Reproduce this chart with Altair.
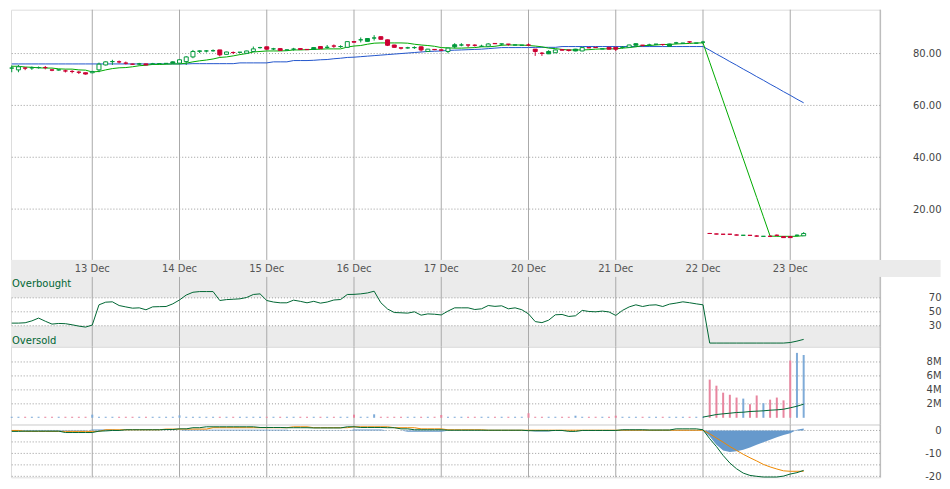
import altair as alt
import pandas as pd

# ---------------- data (30-minute bars, bar 0 = first bar of 13 Dec, 13 bars a day) -------------
FIRST_BAR = -12
DAY_LABELS = ["13 Dec", "14 Dec", "15 Dec", "16 Dec", "17 Dec", "20 Dec", "21 Dec", "22 Dec", "23 Dec"]
DAY_START = [0, 13, 26, 39, 52, 65, 78, 91, 104]

OPEN = [
    74.4, 73.7, 74.4, 74.5, 74.6, 74.6, 73.7, 73.7, 73.3, 73.1, 72.8, 72.6,
    72.6, 73.7, 75.6, 76.9, 76.8, 76.3, 75.9, 76.0, 76.0, 76.0, 76.1, 76.2, 76.8,
    76.3, 76.9, 78.7, 81.0, 81.0, 81.1, 81.4, 79.7, 80.4, 80.5, 80.1, 80.8, 82.3,
    82.6, 81.8, 81.9, 81.4, 81.7, 81.9, 81.6, 82.3, 82.7, 82.4, 82.9, 82.7, 82.4,
    84.6, 85.3, 85.8, 86.0, 86.5, 85.3, 83.3, 82.2, 82.2, 82.3, 82.6, 80.8, 81.6,
    81.4, 80.8, 83.4, 83.3, 83.3, 83.2, 82.8, 82.8, 83.9, 83.7, 83.6, 83.3, 83.2,
    83.3, 81.7, 80.1, 80.8, 80.3, 81.5, 81.4, 81.7, 81.0, 82.3, 82.4, 81.8, 82.4,
    82.4, 82.4, 82.4, 83.8, 83.2, 83.3, 83.6, 83.5, 83.7, 84.1, 84.0, 84.5, 84.0,
    84.4, 10.6, 10.4, 10.3, 10.3, 10.0, 9.9, 9.9, 9.6, 9.5, 9.5, 9.9, 9.4,
    9.4, 9.9, 9.7,
]
HIGH = [
    75.4, 75.6, 74.6, 75.0, 75.0, 75.2, 73.9, 73.8, 73.8, 73.6, 73.3, 72.6,
    73.3, 76.5, 77.0, 77.6, 77.3, 76.9, 76.1, 76.4, 76.1, 76.4, 76.3, 76.3, 77.0,
    77.8, 79.0, 81.4, 81.2, 81.3, 81.6, 81.4, 80.7, 80.8, 80.6, 81.1, 82.7, 82.6,
    82.6, 82.2, 82.0, 81.5, 82.2, 81.9, 81.7, 82.4, 82.8, 83.3, 83.5, 83.2, 84.6,
    84.7, 86.2, 85.9, 87.1, 86.6, 85.4, 83.4, 82.3, 82.6, 82.8, 82.7, 81.8, 81.7,
    81.5, 82.2, 84.0, 84.0, 83.4, 83.6, 83.4, 84.0, 84.0, 83.8, 83.7, 83.4, 83.3,
    83.9, 81.7, 80.6, 81.3, 81.5, 81.6, 81.4, 81.8, 82.4, 82.4, 82.5, 81.9, 82.5,
    82.5, 82.9, 83.4, 83.9, 83.3, 83.8, 83.7, 83.6, 83.8, 84.5, 84.1, 84.6, 84.1,
    84.9, 10.8, 10.5, 10.4, 10.3, 10.2, 10.0, 9.9, 9.9, 9.6, 9.8, 10.2, 9.5,
    9.5, 10.2, 11.1,
]
LOW = [
    72.8, 72.8, 73.6, 73.7, 74.2, 73.9, 73.2, 73.4, 72.7, 72.4, 72.1, 71.9,
    72.4, 72.8, 75.4, 75.6, 76.2, 75.8, 75.7, 75.5, 75.5, 75.7, 76.0, 76.0, 76.2,
    76.0, 75.6, 78.2, 80.2, 80.4, 80.7, 78.9, 79.6, 79.8, 80.3, 80.0, 80.8, 81.9,
    81.5, 81.3, 81.1, 81.3, 81.1, 81.5, 81.4, 81.4, 81.8, 81.9, 82.2, 82.2, 82.2,
    84.3, 84.3, 84.6, 85.0, 85.4, 82.9, 82.3, 81.6, 81.9, 81.8, 80.8, 80.7, 81.3,
    81.1, 80.1, 82.0, 82.8, 82.4, 82.7, 82.5, 82.6, 83.7, 83.0, 83.0, 83.2, 83.1,
    83.0, 79.1, 79.1, 79.8, 80.2, 81.2, 80.8, 80.9, 80.9, 82.1, 82.2, 81.7, 81.6,
    81.0, 81.9, 82.3, 83.1, 82.7, 82.8, 83.5, 83.0, 82.8, 83.6, 83.9, 84.0, 83.9,
    83.8, 10.4, 10.3, 10.2, 10.0, 9.9, 9.8, 9.7, 9.4, 9.4, 9.2, 9.6, 9.0,
    9.0, 9.7, 9.7,
]
CLOSE = [
    74.4, 74.9, 74.4, 74.5, 74.6, 74.6, 73.6, 73.7, 73.3, 73.1, 72.8, 72.1,
    73.1, 75.9, 76.8, 76.9, 76.8, 76.3, 75.9, 76.0, 75.6, 76.0, 76.1, 76.2, 76.3,
    77.6, 78.7, 80.8, 80.9, 81.0, 81.1, 79.5, 80.6, 80.4, 80.5, 81.0, 81.8, 82.3,
    81.7, 81.8, 81.2, 81.4, 81.7, 81.6, 81.5, 81.6, 81.9, 82.4, 82.9, 82.7, 84.6,
    84.4, 85.3, 84.7, 86.0, 85.5, 83.2, 82.4, 82.1, 82.2, 82.3, 81.4, 81.7, 81.5,
    81.3, 82.1, 82.6, 83.3, 83.3, 83.2, 82.8, 83.7, 83.8, 83.7, 83.6, 83.3, 83.2,
    83.3, 80.8, 80.1, 79.9, 81.4, 81.3, 81.2, 81.0, 82.3, 82.2, 82.3, 81.8, 81.7,
    81.7, 82.4, 83.3, 83.2, 83.2, 83.3, 83.6, 83.5, 82.8, 84.1, 84.0, 84.5, 84.0,
    84.4, 10.6, 10.4, 10.3, 10.3, 10.0, 9.9, 9.85, 9.6, 9.5, 9.5, 9.9, 9.0,
    9.0, 9.9, 10.6,
]
# bar direction versus previous bar: G = up, R = down
DIRECTION = (
    "G G R G G R R G R R R R "
    "G G G G R R R G R G G G G "
    "G G G G G G R G R G G G G "
    "R G R G G R R G R G R G G "
    "R G G G R R R R G G R G R "
    "R G G G R R G G R G R G G "
    "R R R G G R R G G R R G R "
    "R G G G R G G R G G G R G "
    "G R R R R R G R R G R R R "
    "R G G"
).split()

SMA_FAST = [
    75.1, 75.1, 74.8, 74.7, 74.5, 74.4, 74.4, 74.1, 74.0, 74.0, 73.7, 73.6,
    72.9, 73.1, 73.7, 74.2, 74.5, 74.6, 74.9, 75.3, 75.5, 75.8, 75.8, 75.9, 76.0,
    76.0, 76.3, 76.8, 77.2, 77.5, 77.9, 78.5, 78.7, 79.1, 79.6, 80.0, 80.6, 80.8,
    81.0, 81.0, 81.0, 81.1, 81.4, 81.4, 81.5, 81.6, 81.7, 81.8, 81.8, 81.8, 82.5,
    82.9, 83.1, 83.6, 84.0, 84.1, 84.1, 84.1, 84.1, 84.0, 83.6, 83.3, 83.1, 82.8,
    82.3, 82.2, 82.1, 82.1, 82.2, 82.3, 82.6, 82.6, 82.8, 83.2, 83.3, 83.3, 83.3,
    83.1, 82.9, 82.6, 82.1, 81.9, 81.6, 81.4, 81.4, 81.4, 81.5, 81.7, 81.8, 81.8,
    81.8, 82.1, 82.3, 82.6, 83.1, 83.1, 83.3, 83.5, 83.5, 83.7, 83.8, 83.9, 84.1,
    84.1, 76.65, 69.2, 61.75, 54.3, 46.85, 39.4, 31.95, 24.5, 17.05, 9.6, 9.5, 9.5,
    9.5, 9.5, 9.8,
]
SMA_SLOW = [
    76.0, 76.0, 76.0, 76.0, 76.0, 76.0, 76.0, 76.0, 76.0, 76.0, 76.0, 76.0,
    76.0, 76.0, 76.0, 76.0, 76.0, 76.0, 76.0, 76.0, 76.0, 76.0, 76.0, 76.0, 76.0,
    76.0, 76.0, 76.1, 76.1, 76.1, 76.1, 76.1, 76.1, 76.1, 76.4, 76.4, 76.4, 76.4,
    76.4, 76.8, 76.8, 76.8, 77.3, 77.3, 77.3, 77.4, 77.6, 77.7, 78.0, 78.2, 78.5,
    78.6, 78.8, 79.0, 79.2, 79.4, 79.6, 79.8, 80.0, 80.2, 80.4, 80.6, 80.8, 80.9,
    81.0, 81.2, 81.3, 81.4, 81.5, 81.6, 81.7, 81.9, 82.1, 82.3, 82.3, 82.3, 82.3,
    82.3, 82.4, 82.4, 82.4, 82.4, 82.7, 82.7, 82.7, 82.7, 82.7, 82.7, 82.7, 82.7,
    82.7, 82.7, 82.7, 82.7, 82.7, 82.7, 82.7, 82.7, 82.7, 82.7, 82.7, 82.7, 82.7,
    82.7, 81.3, 79.8, 78.4, 76.9, 75.5, 74.0, 72.6, 71.1, 69.7, 68.2, 66.8, 65.3,
    63.9, 62.4, 61.0,
]
RSI = [
    33.8, 33.8, 34.3, 37.0, 41.0, 36.5, 32.4, 33.3, 33.0, 31.4, 29.5, 28.1,
    31.0, 60.0, 63.8, 64.3, 59.0, 57.0, 55.2, 55.7, 52.9, 57.1, 57.4, 57.6, 61.4,
    67.0, 74.0, 78.0, 79.0, 79.0, 79.0, 66.2, 67.5, 68.0, 68.6, 70.5, 74.8, 75.7,
    66.2, 64.0, 62.9, 62.9, 66.7, 65.0, 62.9, 65.0, 62.4, 64.0, 66.9, 67.6, 74.8,
    75.0, 75.7, 77.0, 79.5, 63.0, 54.0, 49.0, 48.6, 48.1, 50.0, 45.2, 47.0, 46.5,
    45.5, 51.0, 55.7, 55.7, 55.7, 53.3, 54.3, 59.0, 57.8, 58.6, 54.3, 55.7, 53.0,
    47.0, 36.0, 34.5, 38.0, 45.7, 46.2, 43.3, 44.3, 52.0, 50.5, 50.0, 51.0, 49.8,
    44.8, 52.0, 57.0, 60.0, 57.6, 59.5, 60.0, 57.6, 61.0, 62.5, 64.3, 63.0, 61.4,
    60.0, 5.2, 5.2, 5.2, 5.2, 5.2, 5.2, 5.2, 5.2, 5.2, 5.2, 5.2, 5.2,
    6.0, 8.0, 10.5,
]
VOLUME_M = [
    0.15, 0.15, 0.15, 0.15, 0.15, 0.15, 0.15, 0.15, 0.15, 0.15, 0.15, 0.15,
    0.45, 0.15, 0.15, 0.15, 0.15, 0.15, 0.15, 0.15, 0.15, 0.15, 0.15, 0.15, 0.15,
    0.35, 0.15, 0.15, 0.15, 0.15, 0.15, 0.15, 0.15, 0.15, 0.15, 0.15, 0.15, 0.15,
    0.15, 0.15, 0.15, 0.15, 0.15, 0.15, 0.15, 0.15, 0.15, 0.15, 0.15, 0.15, 0.15,
    0.45, 0.15, 0.15, 0.5, 0.15, 0.15, 0.15, 0.15, 0.15, 0.15, 0.15, 0.15, 0.15,
    0.4, 0.15, 0.15, 0.15, 0.15, 0.15, 0.15, 0.15, 0.15, 0.15, 0.15, 0.15, 0.15,
    0.65, 0.15, 0.15, 0.15, 0.15, 0.15, 0.15, 0.3, 0.15, 0.15, 0.15, 0.15, 0.15,
    0.3, 0.15, 0.15, 0.15, 0.15, 0.15, 0.15, 0.15, 0.15, 0.15, 0.15, 0.15, 0.15,
    0.15, 5.47, 4.6, 3.6, 3.3, 2.9, 2.75, 1.95, 3.2, 2.1, 2.6, 2.9, 2.5,
    8.2, 9.3, 9.0,
]
VOLUME_MA_START = 91
VOLUME_MA_M = [0.1, 0.28, 0.47, 0.57, 0.66, 0.76, 0.8, 0.9, 0.95, 1.0, 1.09, 1.14, 1.23, 1.43, 1.66, 1.95]
MACD = [
    -0.4, -0.4, -0.3, -0.3, -0.3, -0.3, -0.3, -0.3, -0.9, -0.9, -0.9, -0.9,
    -0.9, -0.3, -0.2, 0.0, 0.0, 0.3, 0.3, 0.3, 0.3, 0.3, 0.3, 0.4, 0.4,
    0.7, 0.7, 1.2, 1.2, 1.6, 1.6, 1.6, 1.6, 1.6, 1.6, 1.6, 1.6, 1.3,
    1.3, 1.3, 1.3, 1.2, 1.2, 1.2, 1.2, 1.1, 1.1, 1.1, 1.1, 1.1, 1.6,
    1.6, 1.3, 1.3, 1.3, 1.3, 1.2, 1.2, 0.7, 0.7, 0.3, 0.3, 0.3, 0.3,
    0.3, 0.1, 0.1, 0.1, 0.1, 0.1, 0.1, 0.1, 0.1, 0.1, 0.1, 0.1, 0.1,
    -0.1, -0.1, -0.1, -0.1, 0.0, 0.0, -0.4, -0.4, 0.0, 0.0, 0.0, 0.0, 0.0,
    0.0, 0.3, 0.3, 0.3, 0.3, 0.2, 0.2, 0.2, 0.2, 0.7, 0.7, 0.7, 0.7,
    0.3, -3.6, -7.0, -10.9, -14.2, -16.7, -18.6, -19.6, -20.0, -20.3, -20.3, -20.3, -19.9,
    -19.0, -18.4, -17.4,
]
SIGNAL = [
    0.0, 0.0, -0.4, -0.4, -0.4, -0.4, -0.4, -0.4, -0.4, -0.4, -0.4, -0.4,
    -0.4, -0.4, 0.3, 0.3, 0.3, 0.3, 0.3, 0.3, 0.3, 0.3, 0.3, 0.6, 0.6,
    0.6, 0.6, 0.6, 0.6, 0.6, 1.2, 1.2, 1.2, 1.2, 1.2, 1.2, 1.2, 1.2,
    1.2, 1.2, 1.2, 1.2, 1.6, 1.6, 1.6, 1.2, 1.2, 1.2, 1.2, 1.2, 1.2,
    1.6, 1.6, 1.6, 1.6, 1.6, 1.6, 1.2, 1.2, 1.2, 1.2, 0.7, 0.7, 0.7,
    0.7, 0.3, 0.3, 0.3, 0.3, 0.3, 0.3, 0.1, 0.1, 0.1, 0.1, 0.1, 0.1,
    0.1, 0.1, 0.1, 0.1, 0.1, 0.1, 0.1, 0.1, 0.1, 0.1, 0.1, 0.1, 0.1,
    0.1, 0.1, 0.1, 0.1, 0.1, 0.1, 0.1, 0.1, 0.1, 0.1, 0.1, 0.1, 0.1,
    0.1, -1.45, -3.3, -5.1, -7.0, -8.7, -10.4, -11.9, -13.3, -14.8, -15.9, -16.8, -17.6,
    -17.8, -17.8, -17.8,
]
HIST = [
    -0.2, -0.2, -0.2, -0.2, -0.2, -0.2, -0.2, -0.2, -0.2, -0.2, -0.2, -0.2,
    0.4, 0.4, 0.4, 0.4, 0.0, 0.0, 0.0, 0.0, 0.0, 0.0, 0.0, 0.0, 0.0,
    0.0, 0.3, 0.3, 0.3, 0.3, 0.3, 0.3, 0.3, 0.3, 0.3, 0.3, 0.3, 0.3,
    0.3, 0.3, 0.3, 0.3, -0.1, -0.1, -0.1, -0.1, -0.1, -0.1, -0.1, -0.1, -0.1,
    0.4, 0.4, 0.4, 0.4, 0.4, 0.0, 0.0, 0.0, -0.6, -0.6, -0.6, -0.6, -0.6,
    -0.6, -0.1, -0.1, -0.1, -0.1, -0.1, -0.1, -0.1, -0.1, -0.1, -0.1, -0.1, -0.1,
    -0.1, -0.5, -0.5, -0.5, 0.0, 0.0, 0.0, 0.0, 0.0, 0.0, 0.0, 0.0, 0.0,
    0.0, 0.3, 0.3, 0.3, 0.3, 0.2, 0.2, 0.2, 0.2, 0.2, 0.2, 0.2, 0.2,
    0.0, -2.6, -6.2, -8.7, -9.4, -9.1, -8.4, -7.4, -6.2, -5.1, -4.1, -3.0, -2.0,
    -1.2, 0.3, 0.9,
]

# ---------------- styles ----------------
FONT = "DejaVu Sans"
GREEN_C, RED_C = "#00993a", "#cc0033"
FAST_C, SLOW_C = "#00aa00", "#2255cc"
DARK_GREEN = "#006633"
ORANGE = "#ee8800"
HIST_C = "#6699cc"
VOL_UP, VOL_DOWN = "#7fabd8", "#e8869f"
GRID_V, GRID_H = "#aaaaaa", "#999999"
BAND = "#ebebeb"

# ---------------- frames ----------------
n = len(CLOSE)
bars = pd.DataFrame({
    "idx": list(range(FIRST_BAR, FIRST_BAR + n)),
    "open": OPEN, "high": HIGH, "low": LOW, "close": CLOSE, "dir": DIRECTION,
    "fast": SMA_FAST, "slow": SMA_SLOW, "rsi": RSI, "vol": VOLUME_M,
    "macd": MACD, "signal": SIGNAL, "hist": HIST,
})
bars["zero"] = 0.0
bars["candle_c"] = [GREEN_C if d == "G" else RED_C for d in DIRECTION]
bars["vol_c"] = [VOL_UP if d == "G" else VOL_DOWN for d in DIRECTION]
vol_ma = pd.DataFrame({
    "idx": list(range(VOLUME_MA_START, VOLUME_MA_START + len(VOLUME_MA_M))),
    "vma": VOLUME_MA_M,
})
days = pd.DataFrame({"idx": DAY_START, "label": DAY_LABELS})

X_MIN, X_MAX = -12.11, 117.4
PX_PER_BAR = 6.731
W = (X_MAX - X_MIN) * PX_PER_BAR
LABEL_PAD = 61.0
vgrid = pd.DataFrame({"idx": DAY_START + [X_MAX]})
vgrid["lo"] = 0
vgrid["hi"] = 100

xs = alt.Scale(domain=[X_MIN, X_MAX], nice=False, zero=False, padding=0)
X = alt.X("idx:Q", scale=xs, axis=None)


def right_axis(values, fmt=None, expr=None):
    kw = dict(values=values, orient="right", title=None, grid=False, domain=False,
              ticks=False, tickSize=0, labelAlign="right", labelPadding=LABEL_PAD,
              labelFontSize=10, labelColor="#444444", labelFont=FONT, labelBaseline="middle")
    if fmt:
        kw["format"] = fmt
    if expr:
        kw["labelExpr"] = expr
    return alt.Axis(**kw)


def hgrid(values, scale, axis):
    g = pd.DataFrame({"v": values})
    return alt.Chart(g).mark_rule(color=GRID_H, strokeDash=[1, 2], strokeWidth=1).encode(
        y=alt.Y("v:Q", scale=scale, axis=axis))


def vrules(scale, axis, full=True):
    ch = alt.Chart(vgrid).mark_rule(color=GRID_V, strokeWidth=1)
    if full:
        return ch.encode(x=X)
    return ch.encode(x=X, y=alt.Y("lo:Q", scale=scale, axis=axis), y2="hi:Q")


# ---------------- price panel ----------------
ys_p = alt.Scale(domain=[0.385, 96.92], nice=False, zero=False, padding=0)
ax_p = right_axis([20, 40, 60, 80], fmt=".2f")
Yp = lambda f: alt.Y(f, scale=ys_p, axis=ax_p)

price = alt.layer(
    hgrid([20, 40, 60, 80], ys_p, ax_p),
    vrules(ys_p, ax_p),
    alt.Chart(bars).mark_line(color=SLOW_C, strokeWidth=1).encode(x=X, y=Yp("slow:Q")),
    alt.Chart(bars).mark_line(color=FAST_C, strokeWidth=1).encode(x=X, y=Yp("fast:Q")),
    alt.Chart(bars).mark_rule(strokeWidth=1).encode(
        x=X, y=Yp("low:Q"), y2="high:Q", color=alt.Color("candle_c:N", scale=None)),
    alt.Chart(bars).mark_bar(size=4, strokeWidth=1).encode(
        x=X, y=Yp("open:Q"), y2="close:Q",
        stroke=alt.Stroke("candle_c:N", scale=None),
        fill=alt.condition("datum.close > datum.open", alt.value("white"),
                           alt.Fill("candle_c:N", scale=None))),
).properties(width=W, height=251)

# ---------------- RSI panel (with date band on top) ----------------
ys_r = alt.Scale(domain=[0, 124.29], nice=False, zero=False, padding=0)
ax_r = right_axis([30, 50, 70])
Yr = lambda f: alt.Y(f, scale=ys_r, axis=ax_r)
bands = pd.DataFrame({
    "x0": [X_MIN, X_MIN, X_MIN], "x1": [126.4, X_MAX, X_MAX],
    "y0": [100, 70, 0], "y1": [124.29, 100, 30],
})
notes = pd.DataFrame({"idx": [-11.96, -11.96], "y": [85.7, 3.9], "t": ["Overbought", "Oversold"]})
days["y"] = 106.7

rsi = alt.layer(
    alt.Chart(bands).mark_rect(color=BAND).encode(
        x=alt.X("x0:Q", scale=xs, axis=None), x2="x1:Q", y=Yr("y0:Q"), y2="y1:Q"),
    hgrid([30, 50, 70], ys_r, ax_r),
    vrules(ys_r, ax_r, full=False),
    alt.Chart(bars).mark_line(color=DARK_GREEN, strokeWidth=1).encode(x=X, y=Yr("rsi:Q")),
    alt.Chart(notes).mark_text(align="left", baseline="alphabetic", fontSize=10,
                               font=FONT, color=DARK_GREEN).encode(x=X, y=Yr("y:Q"), text="t:N"),
    alt.Chart(days).mark_text(align="center", baseline="alphabetic", fontSize=10,
                              font=FONT, color="#555555").encode(x=X, y=Yr("y:Q"), text="label:N"),
).properties(width=W, height=87)

# ---------------- volume panel ----------------
ys_v = alt.Scale(domain=[-0.957, 10.186], nice=False, zero=False, padding=0)
ax_v = right_axis([2, 4, 6, 8], expr="datum.value + 'M'")
Yv = lambda f: alt.Y(f, scale=ys_v, axis=ax_v)
volume = alt.layer(
    hgrid([2, 4, 6, 8], ys_v, ax_v),
    vrules(ys_v, ax_v),
    alt.Chart(bars).mark_bar(size=2).encode(
        x=X, y=Yv("vol:Q"), y2="zero:Q", color=alt.Color("vol_c:N", scale=None)),
    alt.Chart(vol_ma).mark_line(color=DARK_GREEN, strokeWidth=1).encode(x=X, y=Yv("vma:Q")),
).properties(width=W, height=78)

# ---------------- MACD panel ----------------
ys_m = alt.Scale(domain=[-20.43, 2.609], nice=False, zero=False, padding=0)
ax_m = right_axis([0, -10, -20],
                  expr="datum.value < 0 ? '-' + toString(-datum.value) : toString(datum.value)")
Ym = lambda f: alt.Y(f, scale=ys_m, axis=ax_m)
macd = alt.layer(
    hgrid([0, -5, -10, -15, -20], ys_m, ax_m),
    vrules(ys_m, ax_m),
    alt.Chart(bars).mark_area(color=HIST_C).encode(x=X, y=Ym("hist:Q"), y2="zero:Q"),
    alt.Chart(bars).mark_line(color=ORANGE, strokeWidth=1).encode(x=X, y=Ym("signal:Q")),
    alt.Chart(bars).mark_line(color=DARK_GREEN, strokeWidth=1).encode(x=X, y=Ym("macd:Q")),
).properties(width=W, height=53)

chart = alt.vconcat(price, rsi, volume, macd, spacing=0, bounds="flush").properties(
    padding=0
).configure_view(strokeWidth=0).configure(font=FONT)

chart.save("out.html", embed_options={"renderer": "svg", "actions": False})
